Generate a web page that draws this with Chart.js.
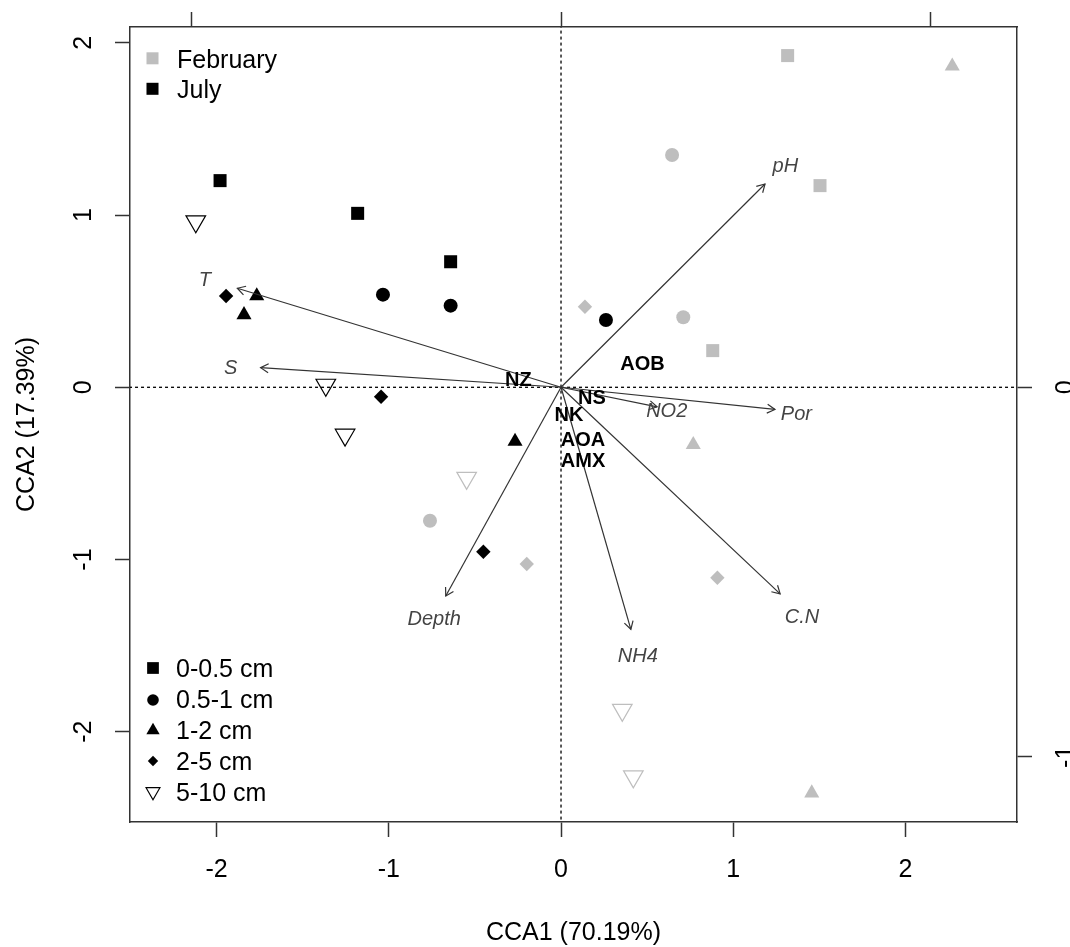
<!DOCTYPE html>
<html>
<head>
<meta charset="utf-8">
<script src="https://cdn.jsdelivr.net/npm/chart.js@4.4.0/dist/chart.umd.min.js"></script>
<style>
html, body { margin: 0; padding: 0; background: #fff; }
#wrap { width: 1070px; height: 947px; position: relative; }
</style>
</head>
<body>
<div id="wrap"><canvas id="cca"></canvas></div>
<script>
// sample groups
const monthLabels = ['February', 'July'];
const depthLabels = ['0-0.5 cm', '0.5-1 cm', '1-2 cm', '2-5 cm', '5-10 cm'];

// site scores, February (depth = index into depthLabels)
const febDepth = [0, 0, 0, 1, 1, 1, 2, 2, 2, 3, 3, 3, 4, 4, 4];
const febCCA1  = [1.316, 1.504, 0.881, 0.645, 0.710, -0.761, 2.272, 0.768, 1.456, 0.139, -0.199, 0.908, -0.548, 0.356, 0.420];
const febCCA2  = [1.926, 1.171, 0.213, 1.349, 0.407, -0.775, 1.864, -0.333, -2.356, 0.468, -1.026, -1.106, -0.527, -1.874, -2.260];

// site scores, July
const julDepth = [0, 0, 0, 1, 1, 1, 2, 2, 2, 3, 3, 3, 4, 4, 4];
const julCCA1  = [-1.980, -1.181, -0.641, -1.034, -0.641, 0.261, -1.767, -1.841, -0.267, -1.945, -1.045, -0.451, -2.121, -1.366, -1.254];
const julCCA2  = [1.200, 1.010, 0.729, 0.538, 0.474, 0.391, 0.530, 0.421, -0.314, 0.530, -0.055, -0.955, 0.963, 0.014, -0.276];

// species scores
const sppNames = ['NZ', 'NS', 'NK', 'AOA', 'AMX', 'AOB'];
const sppCCA1  = [-0.248, 0.180, 0.046, 0.128, 0.128, 0.473];
const sppCCA2  = [0.042, -0.064, -0.161, -0.306, -0.432, 0.130];

// environmental biplot arrows (secondary axis units)
const envNames = ['pH', 'T', 'S', 'Por', 'NO2', 'C.N', 'NH4', 'Depth'];
const envCCA1  = [0.552, -0.876, -0.813, 0.579, 0.260, 0.593, 0.189, -0.312];
const envCCA2  = [0.550, 0.268, 0.053, -0.060, -0.053, -0.559, -0.655, -0.565];

// axes
const xTicks  = [-2, -1, 0, 1, 2];
const yTicks  = [-2, -1, 0, 1, 2];
const x2Ticks = [-1, 0, 1];
const y2Ticks = [-1, 0];

const FONT = '"Liberation Sans", Arial, sans-serif';
const GREY = '#bebebe';
const AXIS = '#333';
const shapes = ['rect', 'circle', 'triangle', 'rectRot', 'triangle'];
const radii  = [9.2, 7, 8.7, 7.2, 11.3];

function siteSets(depth, c1, c2, color) {
  return depthLabels.map((lab, d) => {
    const pts = [];
    depth.forEach((v, i) => { if (v === d) pts.push({x: c1[i], y: c2[i]}); });
    const open = d === 4;
    return {
      label: lab,
      data: pts,
      order: 2,
      showLine: false,
      pointStyle: shapes[d],
      pointRotation: open ? 180 : 0,
      pointRadius: radii[d],
      pointHoverRadius: radii[d],
      pointBackgroundColor: open ? 'rgba(0,0,0,0)' : color,
      pointBorderColor: color,
      pointBorderWidth: open ? 1.2 : 0,
      xAxisID: 'x', yAxisID: 'y'
    };
  });
}

const datasets = [];
// dotted zero lines
datasets.push({data: [{x: -10, y: 0}, {x: 10, y: 0}], showLine: true, borderColor: '#000', borderWidth: 1.3,
  borderDash: [3, 3], pointRadius: 0, order: 3, xAxisID: 'x', yAxisID: 'y'});
datasets.push({data: [{x: 0, y: -10}, {x: 0, y: 10}], showLine: true, borderColor: '#000', borderWidth: 1.3,
  borderDash: [3, 3], pointRadius: 0, order: 3, xAxisID: 'x', yAxisID: 'y'});
siteSets(febDepth, febCCA1, febCCA2, GREY).forEach(d => datasets.push(d));
siteSets(julDepth, julCCA1, julCCA2, '#000').forEach(d => datasets.push(d));
// arrow shafts
envNames.forEach((n, i) => {
  datasets.push({label: n, data: [{x: 0, y: 0}, {x: envCCA1[i], y: envCCA2[i]}], showLine: true,
    borderColor: AXIS, borderWidth: 1.2, pointRadius: 0, order: 1, xAxisID: 'x2', yAxisID: 'y2'});
});

function setTicks(vals) { return s => { s.ticks = vals.map(v => ({value: v})); }; }

function axisOpts(pos, lo, hi, vals, size) {
  return {
    type: 'linear', position: pos, min: lo, max: hi,
    afterBuildTicks: setTicks(vals),
    afterFit: s => { if (pos === 'top' || pos === 'bottom') s.height = size; else s.width = size; },
    grid: {drawOnChartArea: false, drawTicks: true, tickLength: 15, tickColor: AXIS, tickWidth: 1.5, color: AXIS},
    border: {display: true, color: AXIS, width: 1.5},
    ticks: {display: false}
  };
}

const xOpts = axisOpts('bottom', -2.503, 2.648, xTicks, 125);
xOpts.ticks = {display: true, padding: 18, color: '#000', font: {family: FONT, size: 25},
  autoSkip: false, maxRotation: 0, callback: v => String(v)};
xOpts.title = {display: true, text: 'CCA1 (70.19%)', color: '#000', font: {family: FONT, size: 25, lineHeight: 1.08},
  padding: {top: 0, bottom: 0}};

const yOpts = axisOpts('left', -2.524, 2.092, yTicks, 130);
yOpts.title = {display: true, text: 'CCA2 (17.39%)', color: '#000', font: {family: FONT, size: 25},
  padding: {top: 12, bottom: 0}};

const x2Opts = axisOpts('top', -1.1665, 1.234, x2Ticks, 27);
const y2Opts = axisOpts('right', -1.1765, 0.975, y2Ticks, 53);

function drawMark(ctx, shape, x, y, r, color, filled) {
  ctx.save();
  ctx.beginPath();
  if (shape === 'rect') {
    const h = r * Math.SQRT1_2;
    ctx.rect(x - h, y - h, 2 * h, 2 * h);
  } else if (shape === 'circle') {
    ctx.arc(x, y, r, 0, 2 * Math.PI);
  } else if (shape === 'rectRot') {
    ctx.moveTo(x, y - r); ctx.lineTo(x + r, y); ctx.lineTo(x, y + r); ctx.lineTo(x - r, y); ctx.closePath();
  } else {
    const d = shape === 'triangle' ? -1 : 1;
    ctx.moveTo(x, y + d * r);
    ctx.lineTo(x + r * 0.866, y - d * r / 2);
    ctx.lineTo(x - r * 0.866, y - d * r / 2);
    ctx.closePath();
  }
  if (filled) { ctx.fillStyle = color; ctx.fill(); }
  else { ctx.strokeStyle = color; ctx.lineWidth = 1.2; ctx.stroke(); }
  ctx.restore();
}

const overlay = {
  id: 'overlay',
  afterDraw(chart) {
    const ctx = chart.ctx;
    const sx = chart.scales.x, sy = chart.scales.y;
    const sx2 = chart.scales.x2, sy2 = chart.scales.y2;
    ctx.save();

    // rotated y tick labels, left and right
    ctx.fillStyle = '#000';
    ctx.font = '25px ' + FONT;
    ctx.textAlign = 'center';
    ctx.textBaseline = 'middle';
    sy.ticks.forEach(t => {
      ctx.save(); ctx.translate(84, sy.getPixelForValue(t.value)); ctx.rotate(-Math.PI / 2);
      ctx.fillText(String(t.value), 0, 0); ctx.restore();
    });
    sy2.ticks.forEach(t => {
      ctx.save(); ctx.translate(1066, sy2.getPixelForValue(t.value)); ctx.rotate(-Math.PI / 2);
      ctx.fillText(String(t.value), 0, 0); ctx.restore();
    });

    // arrow heads and env labels
    const ox = sx2.getPixelForValue(0), oy = sy2.getPixelForValue(0);
    ctx.strokeStyle = AXIS;
    ctx.lineWidth = 1.2;
    envNames.forEach((n, i) => {
      const tx = sx2.getPixelForValue(envCCA1[i]), ty = sy2.getPixelForValue(envCCA2[i]);
      const a = Math.atan2(ty - oy, tx - ox), L = 9, w = Math.PI / 6;
      ctx.beginPath();
      ctx.moveTo(tx - L * Math.cos(a - w), ty - L * Math.sin(a - w));
      ctx.lineTo(tx, ty);
      ctx.lineTo(tx - L * Math.cos(a + w), ty - L * Math.sin(a + w));
      ctx.stroke();
      ctx.fillStyle = '#444';
      ctx.font = 'italic 20px ' + FONT;
      ctx.fillText(n, ox + 1.1 * (tx - ox), oy + 1.1 * (ty - oy) + 2.5);
    });

    // species labels
    ctx.fillStyle = '#000';
    ctx.font = 'bold 20px ' + FONT;
    sppNames.forEach((n, i) => {
      ctx.fillText(n, sx.getPixelForValue(sppCCA1[i]), sy.getPixelForValue(sppCCA2[i]));
    });

    // month legend
    ctx.font = '25px ' + FONT;
    ctx.textAlign = 'left';
    const monthCols = [GREY, '#000'];
    monthLabels.forEach((m, i) => {
      drawMark(ctx, 'rect', 152.5, 58.3 + i * 30.5, 8.5, monthCols[i], true);
      ctx.fillStyle = '#000';
      ctx.fillText(m, 177, 61 + i * 30.5);
    });

    // depth legend
    const legR = [8.3, 5.8, 7.7, 5.2, 8];
    const legShape = ['rect', 'circle', 'triangle', 'rectRot', 'triangleDown'];
    const markY = [668, 700, 730.4, 761, 791.7];
    depthLabels.forEach((d, i) => {
      drawMark(ctx, legShape[i], 153, markY[i], legR[i], '#000', i !== 4);
      ctx.fillStyle = '#000';
      ctx.fillText(d, 176, 670.5 + i * 31);
    });
    ctx.restore();
  }
};

new Chart(document.getElementById('cca'), {
  type: 'scatter',
  data: {datasets: datasets},
  options: {
    animation: false,
    responsive: true,
    maintainAspectRatio: false,
    devicePixelRatio: 1,
    layout: {padding: 0},
    plugins: {legend: {display: false}, tooltip: {enabled: false}},
    scales: {x: xOpts, y: yOpts, x2: x2Opts, y2: y2Opts}
  },
  plugins: [overlay]
});
</script>
</body>
</html>
